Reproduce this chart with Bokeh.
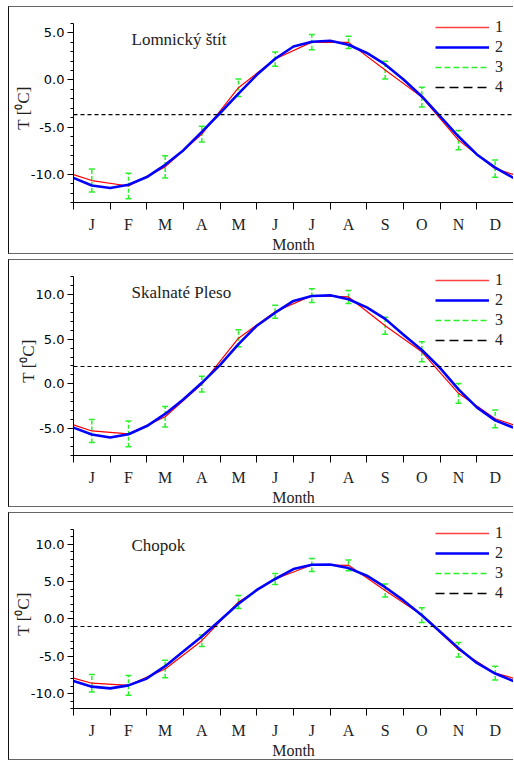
from bokeh.plotting import figure
from bokeh.models import (Range1d, FixedTicker, SingleIntervalTicker, NumeralTickFormatter,
                          Whisker, TeeHead, Span, Label, Legend, LegendItem, ColumnDataSource,
                          GlobalInlineStyleSheet)
from bokeh.layouts import column
from bokeh.embed import file_html
from bokeh.resources import INLINE

# ---------------- data ----------------
MONTHS = ["J", "F", "M", "A", "M", "J", "J", "A", "S", "O", "N", "D"]
MONTH_POS = [0.5, 1.5, 2.5, 3.5, 4.5, 5.5, 6.5, 7.5, 8.5, 9.5, 10.5, 11.5]
FIT_X = [0.0, 0.5, 1.0, 1.5, 2.0, 2.5, 3.0, 3.5, 4.0, 4.5, 5.0, 5.5, 6.0,
         6.5, 7.0, 7.5, 8.0, 8.5, 9.0, 9.5, 10.0, 10.5, 11.0, 11.5, 12.0]
LEGEND_LABELS = ["1", "2", "3", "4"]
X_TITLE = "Month"
Y_TITLE = "T [⁰C]"

LOM_NAME = "Lomnický štít"
LOM_MEAN = [-10.67, -11.25, -9.22, -5.74, -0.82, 2.22, 4.02, 3.99, 1.05, -1.82, -6.38, -9.41]
LOM_ERR = [1.22, 1.35, 1.17, 0.84, 0.93, 0.75, 0.80, 0.66, 0.94, 1.05, 1.03, 0.91]
LOM_FIT = [-10.39, -11.20, -11.47, -11.12, -10.30, -9.00, -7.45, -5.50, -3.50, -1.45, 0.55,
           2.25, 3.55, 4.06, 4.16, 3.74, 2.87, 1.65, 0.05, -1.75, -3.85, -6.00, -7.90, -9.30, -10.39]
LOM_ANNUAL = -3.67
LOM_YRANGE = (-13, 6)

SKP_NAME = "Skalnaté Pleso"
SKP_MEAN = [-5.26, -5.59, -3.67, -0.02, 5.10, 8.06, 9.86, 9.71, 6.49, 3.58, -1.05, -3.90]
SKP_ERR = [1.28, 1.43, 1.15, 0.88, 0.95, 0.73, 0.77, 0.73, 0.95, 1.12, 1.10, 0.99]
SKP_FIT = [-4.89, -5.66, -5.99, -5.62, -4.71, -3.36, -1.71, 0.12, 2.13, 4.44, 6.50,
           7.95, 9.27, 9.81, 9.89, 9.45, 8.54, 7.26, 5.50, 3.78, 1.77, -0.61, -2.62, -4.08, -4.89]
SKP_ANNUAL = 1.94
SKP_YRANGE = (-8, 12)

CHO_NAME = "Chopok"
CHO_MEAN = [-8.61, -8.90, -6.71, -2.91, 2.28, 5.36, 7.24, 7.19, 3.82, 0.53, -4.13, -7.26]
CHO_ERR = [1.17, 1.32, 1.17, 0.77, 0.88, 0.75, 0.86, 0.73, 0.88, 0.99, 0.97, 0.93]
CHO_FIT = [-8.32, -9.07, -9.30, -8.90, -7.97, -6.33, -4.34, -2.36, -0.16, 2.05, 3.90,
           5.36, 6.69, 7.26, 7.31, 6.82, 5.80, 4.26, 2.49, 0.50, -1.70, -3.91, -5.90, -7.31, -8.32]
CHO_ANNUAL = -1.01
CHO_YRANGE = (-12, 12)

# ---------------- layout constants ----------------
FW = 440          # frame width (px)
AH = 180          # height of the drawn y axis (px)
EXT = 10          # extra frame space above the axis top (legend room)
ML, MR, MT, MB = 64, 1, 6, 52
SERIF = "Liberation Serif"
SANS = "DejaVu Sans"
RED, BLUE, GREEN = "#ff0000", "#0000ff", "#2bef2b"
NAN = float("nan")


def panel(name, mean, err, fit, annual, yr):
    y0, y1 = yr
    ppu = AH / (y1 - y0)
    top = y1 + EXT / ppu
    p = figure(width=ML + FW + MR, height=MT + AH + EXT + MB,
               x_range=Range1d(0, 12), y_range=Range1d(y0, top),
               output_backend="svg", toolbar_location=None,
               min_border_left=ML, min_border_right=MR,
               min_border_top=MT, min_border_bottom=MB)
    p.outline_line_color = None
    p.grid.visible = False
    p.background_fill_color = "white"
    p.border_fill_color = "white"
    p.styles = {"border-top": "1px solid #666", "border-bottom": "1px solid #666",
                "border-left": "1px solid #111"}

    def fx(px):
        return px / FW * 12.0

    def fy(px_below_axis_top):
        return y1 - px_below_axis_top / ppu

    # annual mean line
    p.add_layout(Span(location=annual, dimension="width", line_color="black",
                      line_width=1.2, line_dash="4 3"))

    # red: monthly means joined, periodic ends
    edge = (mean[0] + mean[-1]) / 2.0
    p.line([0.0] + MONTH_POS + [12.0], [edge] + mean + [edge],
           line_color=RED, line_width=1.2)
    # blue fit
    p.line(FIT_X, fit, line_color=BLUE, line_width=2.6, line_join="round")

    # green error bars
    src = ColumnDataSource(dict(x=MONTH_POS,
                                lo=[m - e for m, e in zip(mean, err)],
                                hi=[m + e for m, e in zip(mean, err)]))
    p.add_layout(Whisker(base="x", lower="lo", upper="hi", source=src,
                         line_color=GREEN, line_width=1.5, line_dash="4 2",
                         upper_head=TeeHead(size=6, line_color=GREEN, line_width=1.5),
                         lower_head=TeeHead(size=6, line_color=GREEN, line_width=1.5)))

    # legend (dummy renderers carry the legend styles)
    d1 = p.line([NAN], [NAN], line_color="#ff4040", line_width=1.5)
    d2 = p.line([NAN], [NAN], line_color=BLUE, line_width=2.6)
    d3 = p.line([NAN], [NAN], line_color=GREEN, line_width=1.5, line_dash="6 3")
    d4 = p.line([NAN], [NAN], line_color="black", line_width=1.3, line_dash="9 5")
    leg = Legend(items=[LegendItem(label=l, renderers=[r])
                        for l, r in zip(LEGEND_LABELS, [d1, d2, d3, d4])],
                 location=(362, 105), padding=0, spacing=0, margin=0,
                 glyph_width=54, glyph_height=20, label_height=20, label_standoff=6,
                 border_line_color=None, background_fill_alpha=0,
                 label_text_font=SERIF, label_text_font_size="16px",
                 label_text_color="#222222")
    p.add_layout(leg)

    # station name
    p.add_layout(Label(x=fx(58), y=fy(16), text=name, text_font=SERIF,
                       text_font_size="17px", text_align="left", text_baseline="middle",
                       text_color="#222222"))

    # x axis
    xa = p.xaxis[0]
    xa.ticker = FixedTicker(ticks=MONTH_POS, minor_ticks=list(range(13)))
    xa.major_label_overrides = {m: lab for m, lab in zip(MONTH_POS, MONTHS)}
    xa.major_tick_out = 0
    xa.major_tick_in = 0
    xa.minor_tick_out = 7
    xa.minor_tick_in = 0
    xa.minor_tick_line_color = "black"
    xa.major_label_standoff = 6
    xa.major_label_text_font = SERIF
    xa.major_label_text_font_size = "16px"
    xa.major_label_text_color = "#222222"
    xa.axis_label = X_TITLE
    xa.axis_label_standoff = 0
    xa.axis_label_text_font = SERIF
    xa.axis_label_text_font_size = "16px"
    xa.axis_label_text_font_style = "normal"
    xa.axis_label_text_color = "#222222"
    xa.axis_line_color = "black"

    # y axis
    ya = p.yaxis[0]
    ya.bounds = (y0, y1)
    ya.ticker = SingleIntervalTicker(interval=5, num_minor_ticks=5)
    ya.formatter = NumeralTickFormatter(format="0.0")
    ya.major_tick_out = 6
    ya.major_tick_in = 0
    ya.minor_tick_out = 3
    ya.minor_tick_in = 0
    ya.major_label_standoff = 3
    ya.major_label_text_font = SANS
    ya.major_label_text_font_size = "13px"
    ya.major_label_text_color = "black"
    ya.axis_label = Y_TITLE
    ya.axis_label_standoff = -5
    ya.axis_label_text_font = SERIF
    ya.axis_label_text_font_size = "17px"
    ya.axis_label_text_font_style = "normal"
    ya.axis_label_text_color = "#222222"
    ya.axis_line_color = "black"
    return p


p1 = panel(LOM_NAME, LOM_MEAN, LOM_ERR, LOM_FIT, LOM_ANNUAL, LOM_YRANGE)
p2 = panel(SKP_NAME, SKP_MEAN, SKP_ERR, SKP_FIT, SKP_ANNUAL, SKP_YRANGE)
p3 = panel(CHO_NAME, CHO_MEAN, CHO_ERR, CHO_FIT, CHO_ANNUAL, CHO_YRANGE)

layout = column(p1, p2, p3, spacing=5)
layout.margin = (6, 0, 0, 8)
layout.stylesheets = [GlobalInlineStyleSheet(css="html { overflow: hidden; }")]

with open("out.html", "w") as f:
    f.write(file_html(layout, INLINE))
